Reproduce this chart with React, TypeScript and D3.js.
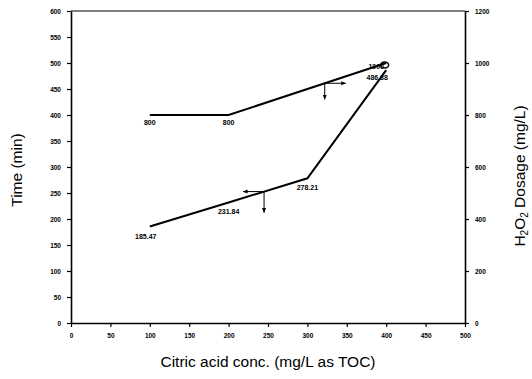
import React, { useEffect, useRef } from 'react';
import * as d3 from 'd3';

// citric acid conc. (mg/L as TOC)
const concTime = [100, 200, 300, 400];
const timeValues = [185.47, 231.84, 278.21, 486.38];
const timeLabels = ['185.47', '231.84', '278.21', '486.38'];

const concDose = [100, 200, 400];
const doseValues = [800, 800, 1000];
const doseLabels = ['800', '800', '1000'];

const xTicks = [0, 50, 100, 150, 200, 250, 300, 350, 400, 450, 500];
const leftTicks = [0, 50, 100, 150, 200, 250, 300, 350, 400, 450, 500, 550, 600];
const rightTicks = [0, 200, 400, 600, 800, 1000, 1200];

const App = () => {
  const svgRef = useRef<SVGSVGElement | null>(null);

  useEffect(() => {
    const svg = d3.select(svgRef.current);
    svg.selectAll('*').remove();

    const left = 71, right = 465, top = 11, bottom = 323;

    const x = d3.scaleLinear().domain([0, 500]).range([left, right]);
    const yL = d3.scaleLinear().domain([0, 600]).range([bottom, top]);
    const yR = d3.scaleLinear().domain([0, 1200]).range([bottom, top]);

    const tickFont = 'Arial, "Liberation Sans", sans-serif';
    const fmt = d3.format('d');

    // arrow head marker
    const defs = svg.append('defs');
    defs.append('marker')
      .attr('id', 'arrowhead')
      .attr('viewBox', '0 0 10 10')
      .attr('refX', 9)
      .attr('refY', 5)
      .attr('markerWidth', 5)
      .attr('markerHeight', 5)
      .attr('orient', 'auto')
      .append('path')
      .attr('d', 'M0,1 L10,5 L0,9 Z')
      .attr('fill', '#000');

    // frame top line
    svg.append('line')
      .attr('x1', left).attr('x2', right)
      .attr('y1', top).attr('y2', top)
      .attr('stroke', '#000').attr('stroke-width', 1.2);

    // axes
    const styleAxis = (g: any) => {
      g.select('.domain').attr('stroke', '#000').attr('stroke-width', 1.6);
      g.selectAll('.tick line').attr('stroke', '#000').attr('stroke-width', 1.2);
      g.selectAll('.tick text')
        .attr('font-family', tickFont)
        .attr('font-weight', 'bold')
        .attr('font-size', 6.5)
        .attr('fill', '#000')
        .style('fill', '#000');
    };

    svg.append('g')
      .attr('transform', `translate(0,${bottom})`)
      .call(d3.axisBottom(x).tickValues(xTicks).tickFormat(fmt).tickSize(4).tickSizeOuter(0).tickPadding(6))
      .call(styleAxis);

    svg.append('g')
      .attr('transform', `translate(${left},0)`)
      .call(d3.axisLeft(yL).tickValues(leftTicks).tickFormat(fmt).tickSize(4).tickSizeOuter(0).tickPadding(6))
      .call(styleAxis);

    svg.append('g')
      .attr('transform', `translate(${right},0)`)
      .call(d3.axisRight(yR).tickValues(rightTicks).tickFormat(fmt).tickSize(4).tickSizeOuter(0).tickPadding(6))
      .call(styleAxis);

    // lines
    const timeData = concTime.map((c, i) => ({ x: c, y: timeValues[i], label: timeLabels[i] }));
    const doseData = concDose.map((c, i) => ({ x: c, y: doseValues[i], label: doseLabels[i] }));

    svg.append('path')
      .datum(timeData)
      .attr('fill', 'none')
      .attr('stroke', '#000')
      .attr('stroke-width', 2)
      .attr('d', d3.line<any>().x(d => x(d.x)).y(d => yL(d.y)));

    svg.append('path')
      .datum(doseData)
      .attr('fill', 'none')
      .attr('stroke', '#000')
      .attr('stroke-width', 2)
      .attr('d', d3.line<any>().x(d => x(d.x)).y(d => yR(d.y)));

    // little open loop at the common end point
    svg.append('ellipse')
      .attr('cx', x(398))
      .attr('cy', yR(1000) + 2)
      .attr('rx', 4)
      .attr('ry', 3)
      .attr('fill', 'none')
      .attr('stroke', '#000')
      .attr('stroke-width', 1.5);

    // value labels
    const labelFont = (sel: any) => sel
      .attr('font-family', tickFont)
      .attr('font-weight', 'bold')
      .attr('font-size', 7)
      .attr('text-anchor', 'middle')
      .style('fill', '#000');

    svg.selectAll('.time-label')
      .data(timeData)
      .enter().append('text')
      .attr('class', 'time-label')
      .attr('x', (d, i) => x(d.x) + (i === 0 ? -4 : i === 3 ? -9 : 0))
      .attr('y', (d, i) => (i === 3 ? yL(d.y) + 10 : yL(d.y) + 12))
      .text(d => d.label)
      .call(labelFont);

    svg.selectAll('.dose-label')
      .data(doseData)
      .enter().append('text')
      .attr('class', 'dose-label')
      .attr('x', (d, i) => x(d.x) + (i === 2 ? -10 : 0))
      .attr('y', (d, i) => (i === 2 ? yR(d.y) + 6 : yR(d.y) + 10))
      .text(d => d.label)
      .call(labelFont);

    // arrows indicating which axis each line belongs to
    const arrow = (x1: number, y1: number, x2: number, y2: number) => {
      svg.append('line')
        .attr('x1', x1).attr('y1', y1)
        .attr('x2', x2).attr('y2', y2)
        .attr('stroke', '#000')
        .attr('stroke-width', 1)
        .attr('marker-end', 'url(#arrowhead)');
    };

    // lower line (Time) -> arrow to the left
    const ax = 245;
    const ay = d3.scaleLinear().domain([200, 300]).range([231.84, 278.21])(ax);
    arrow(x(ax), yL(ay), x(ax) - 21, yL(ay));
    arrow(x(ax), yL(ay), x(ax), yL(ay) + 21);

    // upper line (H2O2) -> arrow to the right
    const bx = 322;
    const by = d3.scaleLinear().domain([200, 400]).range([800, 1000])(bx);
    arrow(x(bx), yR(by), x(bx) + 21, yR(by));
    arrow(x(bx), yR(by), x(bx), yR(by) + 16);

    // axis titles
    const titleFont = 'Arial, "Liberation Sans", sans-serif';
    svg.append('text')
      .attr('x', 268)
      .attr('y', 367)
      .attr('text-anchor', 'middle')
      .attr('font-family', titleFont)
      .attr('font-size', 15.5)
      .style('fill', '#000')
      .text('Citric acid conc. (mg/L as TOC)');

    svg.append('text')
      .attr('transform', 'translate(22,170) rotate(-90)')
      .attr('text-anchor', 'middle')
      .attr('font-family', titleFont)
      .attr('font-size', 15.5)
      .style('fill', '#000')
      .text('Time (min)');

    const rt = svg.append('text')
      .attr('transform', 'translate(525,176) rotate(-90)')
      .attr('text-anchor', 'middle')
      .attr('font-family', titleFont)
      .attr('font-size', 15.5)
      .style('fill', '#000');
    rt.append('tspan').text('H');
    rt.append('tspan').attr('font-size', 10).attr('dy', 3).text('2');
    rt.append('tspan').attr('dy', -3).text('O');
    rt.append('tspan').attr('font-size', 10).attr('dy', 3).text('2');
    rt.append('tspan').attr('dy', -3).text(' Dosage (mg/L)');
  }, []);

  return (
    <svg
      ref={svgRef}
      width={532}
      height={379}
      style={{ position: 'absolute', left: 0, top: 0, background: '#fff' }}
    />
  );
};

export default App;
